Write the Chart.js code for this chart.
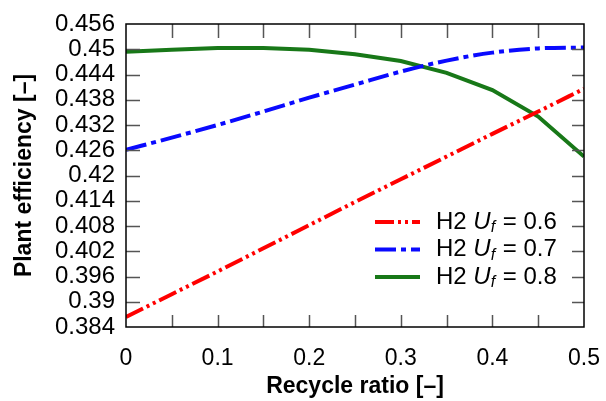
<!DOCTYPE html>
<html lang="en">
<head>
<meta charset="UTF-8">
<title>Plant efficiency vs recycle ratio</title>
<script src="https://cdn.jsdelivr.net/npm/chart.js"></script>
<style>
  body { margin: 0; background: #fff; }
  #wrap { width: 606px; height: 401px; }
</style>
</head>
<body>
<div id="wrap"><canvas id="grafico" width="606" height="401"></canvas></div>
<script>
    // recycle ratio (x) and plant efficiency for each fuel utilisation
    const ratio = [0, 0.05, 0.1, 0.15, 0.2, 0.25, 0.3, 0.35, 0.4, 0.45, 0.5];
    const effUf06 = [0.3864, 0.3918, 0.3972, 0.4027, 0.4082, 0.4137, 0.4191, 0.4245, 0.4299, 0.4352, 0.4406];
    const effUf07 = [0.4261, 0.4290, 0.4320, 0.4352, 0.4385, 0.4416, 0.4447, 0.4473, 0.4492, 0.4502, 0.4504];
    const effUf08 = [0.4494, 0.4499, 0.4503, 0.4503, 0.4499, 0.4488, 0.4472, 0.4444, 0.4403, 0.4340, 0.4245];
    const ufLabels = ['0.6', '0.7', '0.8'];

    const xTicks = [0, 0.05, 0.1, 0.15, 0.2, 0.25, 0.3, 0.35, 0.4, 0.45, 0.5];
    const xLabels = [0, 0.1, 0.2, 0.3, 0.4, 0.5];
    const yTicks = [0.384, 0.39, 0.396, 0.402, 0.408, 0.414, 0.42, 0.426, 0.432, 0.438, 0.444, 0.45, 0.456];

    const FONT = '"Liberation Sans", Arial, sans-serif';

    function pontos(ys) {
        return ratio.map((x, i) => ({ x: x, y: ys[i] }));
    }

    // frame + inward tick marks on all four sides
    const molduraPlugin = {
        id: 'moldura',
        afterDatasetsDraw(chart) {
            const { ctx, chartArea: a, scales } = chart;
            ctx.save();
            ctx.strokeStyle = '#555';
            ctx.lineWidth = 1.5;
            ctx.beginPath();
            scales.y.ticks.forEach(t => {
                const y = Math.round(scales.y.getPixelForValue(t.value)) + 0.5;
                if (y <= a.top + 1 || y >= a.bottom - 1) return;
                ctx.moveTo(a.left, y); ctx.lineTo(a.left + 14, y);
                ctx.moveTo(a.right, y); ctx.lineTo(a.right - 12, y);
            });
            scales.x.ticks.forEach(t => {
                const x = Math.round(scales.x.getPixelForValue(t.value)) + 0.5;
                if (x <= a.left + 1 || x >= a.right - 1) return;
                ctx.moveTo(x, a.top); ctx.lineTo(x, a.top + 14);
                ctx.moveTo(x, a.bottom); ctx.lineTo(x, a.bottom - 12);
            });
            ctx.stroke();
            ctx.strokeStyle = '#000';
            ctx.lineWidth = 1.5;
            ctx.strokeRect(a.left, a.top, a.right - a.left, a.bottom - a.top);
            ctx.restore();
        }
    };

    // legend with italic U and subscript f
    const legendaPlugin = {
        id: 'legendaUf',
        afterDraw(chart) {
            const { ctx, chartArea: a } = chart;
            const x0 = a.right - 209, y0 = a.bottom - 105, dy = 27.5;
            chart.data.datasets.forEach((ds, i) => {
                const y = y0 + i * dy;
                ctx.save();
                ctx.strokeStyle = ds.borderColor;
                ctx.lineWidth = 4;
                ctx.setLineDash(ds.borderDash || []);
                ctx.beginPath();
                ctx.moveTo(x0, y); ctx.lineTo(x0 + 45, y);
                ctx.stroke();
                ctx.setLineDash([]);
                ctx.fillStyle = '#000';
                ctx.textBaseline = 'middle';
                let x = x0 + 61;
                ctx.font = '24px ' + FONT;
                ctx.fillText('H2 ', x, y); x += ctx.measureText('H2 ').width;
                ctx.font = 'italic 24px ' + FONT;
                ctx.fillText('U', x, y); x += ctx.measureText('U').width;
                ctx.font = 'italic 16px ' + FONT;
                ctx.fillText('f', x, y + 6); x += ctx.measureText('f').width + 1;
                ctx.font = '24px ' + FONT;
                ctx.fillText(' = ' + ufLabels[i], x, y);
                ctx.restore();
            });
        }
    };

    new Chart(document.getElementById('grafico'), {
        type: 'line',
        data: {
            datasets: [
                {
                    label: 'H2 Uf = ' + ufLabels[0],
                    data: pontos(effUf06),
                    borderColor: '#ff0000',
                    borderWidth: 4,
                    borderDash: [19, 4, 3, 4, 3, 4],
                    cubicInterpolationMode: 'monotone',
                    pointRadius: 0
                },
                {
                    label: 'H2 Uf = ' + ufLabels[1],
                    data: pontos(effUf07),
                    borderColor: '#0a0aff',
                    borderWidth: 4,
                    borderDash: [21, 5, 5, 5],
                    cubicInterpolationMode: 'monotone',
                    pointRadius: 0
                },
                {
                    label: 'H2 Uf = ' + ufLabels[2],
                    data: pontos(effUf08),
                    borderColor: '#187818',
                    borderWidth: 4,
                    tension: 0,
                    pointRadius: 0
                }
            ]
        },
        options: {
            responsive: false,
            devicePixelRatio: 1,
            animation: false,
            layout: { padding: { top: 24, right: 22, left: 0, bottom: 0 } },
            plugins: {
                legend: { display: false },
                tooltip: { enabled: false }
            },
            scales: {
                x: {
                    type: 'linear',
                    min: 0,
                    max: 0.5,
                    afterFit: s => { s.height = 74; s.paddingLeft = 0; s.paddingRight = 0; },
                    afterBuildTicks: s => { s.ticks = xTicks.map(v => ({ value: v })); },
                    grid: { display: false, drawTicks: false },
                    border: { display: false },
                    ticks: {
                        autoSkip: false,
                        maxRotation: 0,
                        padding: 18,
                        color: '#000',
                        font: { family: FONT, size: 23 },
                        callback: v => xLabels.some(l => Math.abs(l - v) < 1e-9) ? String(parseFloat(v.toFixed(2))) : ''
                    },
                    title: {
                        display: true,
                        text: 'Recycle ratio [–]',
                        color: '#000',
                        font: { family: FONT, size: 23, weight: 'bold' },
                        padding: { top: 0, bottom: 1 }
                    }
                },
                y: {
                    min: 0.384,
                    max: 0.456,
                    afterFit: s => { s.width = 126; s.paddingTop = 0; s.paddingBottom = 0; },
                    afterBuildTicks: s => { s.ticks = yTicks.map(v => ({ value: v })); },
                    grid: { display: false, drawTicks: false },
                    border: { display: false },
                    ticks: {
                        autoSkip: false,
                        padding: 11,
                        color: '#000',
                        font: { family: FONT, size: 24 },
                        callback: v => String(parseFloat(v.toFixed(3)))
                    },
                    title: {
                        display: true,
                        text: 'Plant efficiency [–]',
                        color: '#000',
                        font: { family: FONT, size: 23, weight: 'bold' },
                        padding: { top: 11, bottom: 0 }
                    }
                }
            }
        },
        plugins: [molduraPlugin, legendaPlugin]
    });
</script>
</body>
</html>
